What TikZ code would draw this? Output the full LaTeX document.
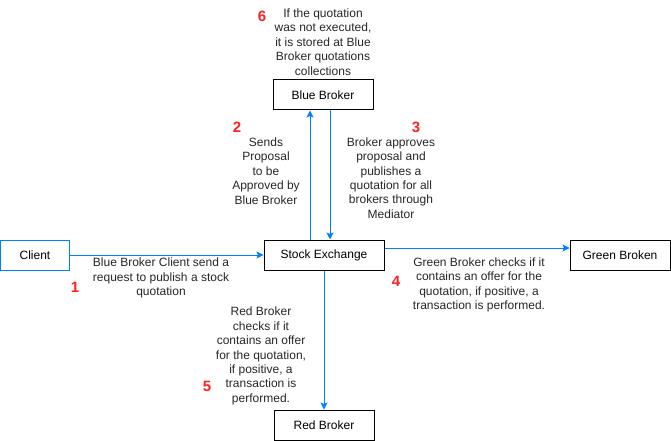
\documentclass[tikz,border=0pt]{standalone}
\usepackage{fontspec}
\setmainfont{Liberation Sans}
\usetikzlibrary{arrows.meta}
\definecolor{linkblue}{HTML}{007FFF}
\definecolor{numred}{HTML}{FF2020}
\tikzset{
  box/.style={draw=black, line width=1pt, minimum height=30pt, inner sep=0pt, font=\fontsize{12}{14.4}\selectfont},
  bluebox/.style={box, draw=linkblue},
  arr/.style={draw=linkblue, line width=1pt, -{Stealth[length=7pt,width=7pt,inset=1.5pt]}},
  lbl/.style={align=center, inner sep=0pt, text=black!85, font=\fontsize{12}{14.4}\selectfont},
  num/.style={text=numred, inner sep=0pt, font=\fontsize{15}{17}\selectfont\bfseries}
}
\begin{document}
\begin{tikzpicture}[x=1pt,y=-1pt]
\useasboundingbox (0,0) rectangle (671,441);
\node[bluebox, minimum width=69pt] (client) at (35,255) {Client};
\node[box, minimum width=120pt] (stock) at (324,255) {Stock Exchange};
\node[box, minimum width=100pt] (blue) at (323,95) {Blue Broker};
\node[box, minimum width=100pt] (red) at (324,425) {Red Broker};
\node[box, minimum width=100pt] (green) at (620,255) {Green Broken};

\draw[arr] (client.east) -- (stock.west);
\draw[arr] ([xshift=-14pt]stock.north) -- ([xshift=-14pt]stock.north |- blue.south);
\draw[arr] ([xshift=7pt]blue.south) -- ([xshift=7pt]blue.south |- stock.north);
\draw[arr] (stock.south) -- (red.north);
\draw[arr] ([yshift=7pt]stock.east) -- ([yshift=7pt]stock.east -| green.west);

\node[lbl] (l6) at (323,42) {If the quotation\\was not executed,\\it is stored at Blue\\Broker quotations\\collections};
\node[lbl] (l2) at (266,171) {Sends\\Proposal\\to be\\Approved by\\Blue Broker};
\node[lbl] (l3) at (391,178) {Broker approves\\proposal and\\publishes a\\quotation for all\\brokers through\\Mediator};
\node[lbl] (l1) at (161,278) {Blue Broker Client send a\\request to publish a stock\\quotation};
\node[lbl] (l4) at (479,285) {Green Broker checks if it\\contains an offer for the\\quotation, if positive, a\\transaction is performed.};
\node[lbl] (l5) at (261,356) {Red Broker\\checks if it\\contains an offer\\for the quotation,\\if positive, a\\transaction is\\performed.};

\node[num] (n6) at (262,16) {6};
\node[num] (n2) at (237,127) {2};
\node[num] (n3) at (416,127) {3};
\node[num] (n1) at (75,287) {1};
\node[num] (n4) at (396,281) {4};
\node[num] (n5) at (207,386) {5};
\end{tikzpicture}
\end{document}
